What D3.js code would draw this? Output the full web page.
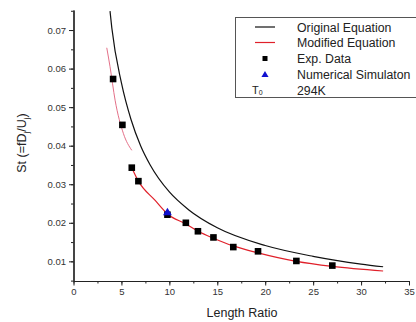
<!DOCTYPE html>
<html>
<head>
<meta charset="utf-8">
<script src="https://cdn.jsdelivr.net/npm/d3@7"></script>
<style>
  body { margin: 0; background: #fff; }
  text { font-family: "Liberation Sans", Arial, sans-serif; fill: #222; }
  .axis path, .axis line { stroke: #222; }
</style>
</head>
<body>
<svg id="chart" width="416" height="322"></svg>
<script>
// DATA
var expX = [4.13, 5.1, 6.08, 6.77, 9.8, 11.72, 12.98, 14.6, 16.67, 19.25, 23.25, 27.0];
var expY = [0.0573, 0.0454, 0.0343, 0.0308, 0.0221, 0.0200, 0.0178, 0.0162, 0.0137, 0.0126, 0.0101, 0.0089];
var simX = [9.8];
var simY = [0.0226];
var origX = [3.81, 4, 5, 6, 7, 8, 10, 12, 15, 20, 25, 30, 32.3];
var origY = [0.0749, 0.0705, 0.0563, 0.0468, 0.0400, 0.0350, 0.0280, 0.0234, 0.0187, 0.0141, 0.0113, 0.0093, 0.0086];
var modUpX = [3.47, 3.81, 4.34, 5.2, 6.08];
var modUpY = [0.0654, 0.0605, 0.0518, 0.0432, 0.0388];
var modX = [6.08, 6.77, 8.52, 9.8, 11.72, 13.0, 14.6, 16.67, 19.25, 23.25, 27.0, 32.3];
var modY = [0.0343, 0.0308, 0.0258, 0.0223, 0.0197, 0.0178, 0.0160, 0.0140, 0.0122, 0.0100, 0.0087, 0.0075];
var xTicks = [0, 5, 10, 15, 20, 25, 30, 35];
var yTicks = [0.01, 0.02, 0.03, 0.04, 0.05, 0.06, 0.07];
var legendLabels = ['Original Equation', 'Modified Equation', 'Exp. Data', 'Numerical Simulaton', '294K'];

var margin = { top: 10, bottom: 41, left: 73.5, right: 7 };
var W = 416, H = 322;
var width = W - margin.left - margin.right;
var height = H - margin.top - margin.bottom;

var svg = d3.select('#chart');
var g = svg.append('g').attr('transform', 'translate(' + margin.left + ',' + margin.top + ')');

var x = d3.scaleLinear().domain([0, 35]).range([0, width]);
var y = d3.scaleLinear().domain([0.0049, 0.0752]).range([height, 0]);

function zip(xs, ys) { return xs.map(function(v, i) { return [v, ys[i]]; }); }

// minor ticks
var xMinor = d3.range(0, 35.01, 2.5);
var yMinor = d3.range(0.005, 0.0751, 0.005);

g.append('g').attr('class', 'axis')
  .attr('transform', 'translate(0,' + height + ')')
  .call(d3.axisBottom(x).tickValues(xMinor).tickSize(2.5).tickFormat('').tickSizeOuter(0));
g.append('g').attr('class', 'axis')
  .call(d3.axisLeft(y).tickValues(yMinor).tickSize(2.5).tickFormat('').tickSizeOuter(0));

g.append('g').attr('class', 'axis')
  .attr('transform', 'translate(0,' + height + ')')
  .call(d3.axisBottom(x).tickValues(xTicks).tickSize(4.5).tickSizeOuter(0).tickPadding(3));
g.append('g').attr('class', 'axis')
  .call(d3.axisLeft(y).tickValues(yTicks).tickSize(4.5).tickSizeOuter(0).tickPadding(3)
    .tickFormat(d3.format('.2f')));
g.selectAll('.axis text').style('font-size', '9.5px').style('fill', '#333');
g.selectAll('.axis path').style('stroke-width', 1.2);

// curves
var line = d3.line().x(function(d) { return x(d[0]); }).y(function(d) { return y(d[1]); })
  .curve(d3.curveMonotoneX);

g.append('path').datum(zip(origX, origY))
  .attr('d', line).attr('fill', 'none').attr('stroke', '#111').attr('stroke-width', 1.2);
g.append('path').datum(zip(modUpX, modUpY))
  .attr('d', line).attr('fill', 'none').attr('stroke', '#e0607a').attr('stroke-width', 0.9);
g.append('path').datum(zip(modX, modY))
  .attr('d', line).attr('fill', 'none').attr('stroke', '#e0202a').attr('stroke-width', 1.2);

// points
g.selectAll('.exp').data(zip(expX, expY)).enter().append('rect')
  .attr('class', 'exp')
  .attr('x', function(d) { return x(d[0]) - 3.3; })
  .attr('y', function(d) { return y(d[1]) - 3.3; })
  .attr('width', 6.6).attr('height', 6.6).attr('fill', '#000');

var tri = d3.symbol().type(d3.symbolTriangle).size(34);
g.selectAll('.sim').data(zip(simX, simY)).enter().append('path')
  .attr('class', 'sim')
  .attr('d', tri)
  .attr('transform', function(d) { return 'translate(' + x(d[0]) + ',' + y(d[1]) + ')'; })
  .attr('fill', '#1010d0');

// axis labels
svg.append('text').attr('x', 242).attr('y', 317).attr('text-anchor', 'middle')
  .style('font-size', '12.5px').text('Length Ratio');
var yl = svg.append('text').attr('transform', 'translate(26,143)rotate(-90)')
  .attr('text-anchor', 'middle').style('font-size', '12.5px');
yl.append('tspan').text('St (=fD');
yl.append('tspan').attr('dy', 3).style('font-size', '8px').text('j');
yl.append('tspan').attr('dy', -3).text('/U');
yl.append('tspan').attr('dy', 3).style('font-size', '8px').text('j');
yl.append('tspan').attr('dy', -3).text(')');

// legend
var leg = svg.append('g');
leg.append('rect').attr('x', 235.5).attr('y', 17.5).attr('width', 182).attr('height', 80)
  .attr('fill', '#fff').attr('stroke', '#555').attr('stroke-width', 1);
var rowY = [27, 42.5, 58.5, 74.5, 90];
leg.selectAll('.lt').data(legendLabels).enter().append('text')
  .attr('x', 297).attr('y', function(d, i) { return rowY[i] + 4.5; })
  .style('font-size', '12.3px').text(function(d) { return d; });
leg.append('line').attr('x1', 255).attr('x2', 275).attr('y1', rowY[0]).attr('y2', rowY[0])
  .attr('stroke', '#111').attr('stroke-width', 1.2);
leg.append('line').attr('x1', 255).attr('x2', 275).attr('y1', rowY[1]).attr('y2', rowY[1])
  .attr('stroke', '#e0202a').attr('stroke-width', 1.2);
leg.append('rect').attr('x', 262.5).attr('y', rowY[2] - 2.5).attr('width', 5).attr('height', 5).attr('fill', '#000');
leg.append('path').attr('d', d3.symbol().type(d3.symbolTriangle).size(22))
  .attr('transform', 'translate(265,' + (rowY[3] + 0.5) + ')').attr('fill', '#1010d0');
var t0 = leg.append('text').attr('x', 252).attr('y', rowY[4] + 4).style('font-size', '11px');
t0.append('tspan').text('T');
t0.append('tspan').style('font-size', '7px').attr('dy', 1).text('0');
</script>
</body>
</html>
